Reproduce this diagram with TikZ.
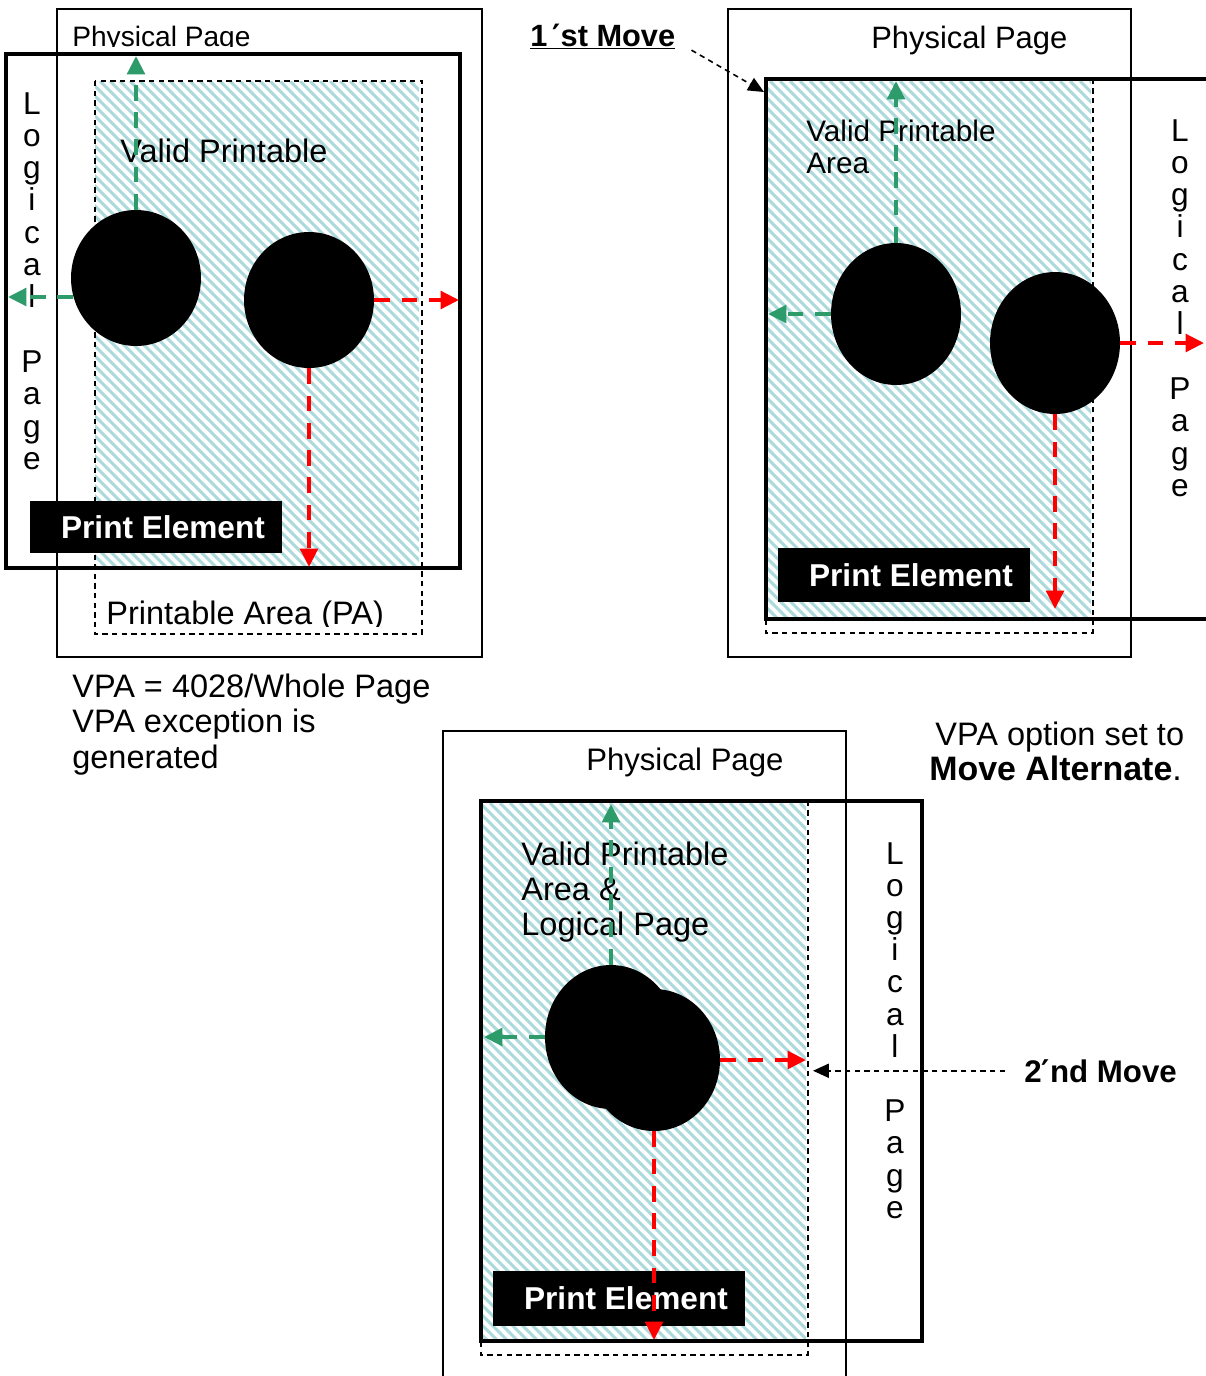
\documentclass[tikz,border=0pt]{standalone}
\usepackage{fontspec}
\setmainfont{Liberation Sans}
\newfontfamily\primefont{DejaVu Sans}
\usepackage{tikz}
\usetikzlibrary{arrows.meta, shapes.geometric}

\definecolor{hatchteal}{RGB}{172,218,220}
\definecolor{movegreen}{RGB}{46,155,106}
\definecolor{movered}{RGB}{255,0,0}

% striped valid printable area
\newcommand{\hatchbox}[4]{%
  \begin{scope}
    \clip (#1,#2) rectangle (#3,#4);
    \foreach \hx in {-600,-590,...,1210}
      \draw[hatch] (\hx,#2) -- ++(700,700);
  \end{scope}}

\begin{document}
\begin{tikzpicture}[
    x=0.02cm, y=-0.02cm,
    phys/.style={draw, line width=1.1pt},
    logical/.style={draw, line width=2.3pt},
    parea/.style={draw, line width=0.8pt, dash pattern=on 3pt off 2.5pt},
    hatch/.style={draw=hatchteal, line width=1.7pt},
    lbl/.style={inner sep=0pt, anchor=base west, font=\fontsize{18.5}{22}\selectfont},
    vletter/.style={inner sep=0pt, anchor=base, font=\fontsize{18}{22}\selectfont},
    elem/.style={fill=black, text=white, inner sep=0pt, minimum width=5.04cm,
                 font=\bfseries\fontsize{18}{22}\selectfont},
    blob/.style={ellipse, fill=black, inner sep=0pt},
    move/.style={dash pattern=on 9pt off 6.5pt, line width=2.3pt,
                 -{Triangle[length=10.5pt,width=10pt]}},
    gmove/.style={move, color=movegreen},
    rmove/.style={move, color=movered},
    pointer/.style={draw, line width=0.9pt, dash pattern=on 3pt off 2.5pt,
                    -{Triangle[length=9pt,width=8pt]}},
]
\useasboundingbox (0,0) rectangle (1205,1376);

% ---- first panel: VPA exception
\draw[phys] (57,9) rectangle (482,657);
\hatchbox{95}{81}{419}{566}
\draw[parea] (95,81) rectangle (422,634);
\draw[logical] (6,54) rectangle (460,568);
\begin{scope}
  \clip (0,0) rectangle (480,46.5);
  \node[lbl, font=\fontsize{16}{20}\selectfont] (phys1) at (72,46) {Physical Page};
\end{scope}
\begin{scope}
  \clip (0,0) rectangle (480,626);
  \node[lbl] (pa1) at (106,624) {Printable Area (PA)};
\end{scope}
\node[lbl] (vpa1) at (120,162) {Valid Printable};
\foreach \ch [count=\i] in {L,o,g,i,c,a,l,,P,a,g,e}
  \node[vletter] (lp1-\i) at (32,{114+32.3*(\i-1)}) {\ch};
\node[blob, minimum width=2.6cm, minimum height=2.72cm] (a1) at (136,278) {};
\node[blob, minimum width=2.6cm, minimum height=2.72cm] (b1) at (309,300) {};
\node[elem, minimum height=1.04cm] (pe1) at (156,527) {\hspace*{0.28cm}Print Element};
\coordinate (u1) at (136,56);
\coordinate (l1) at (8,297);
\coordinate (r1) at (459,300);
\coordinate (d1) at (309,567);
\draw[gmove] (a1.north) -- (u1);
\draw[gmove] (l1 -| a1.197) -- (l1);
\draw[rmove] (b1.east) -- (r1);
\draw[rmove] (b1.south) -- (d1);
\node[lbl] (note1) at (72,697) {VPA = 4028/Whole Page};
\node[lbl] (note2) at (72,732) {VPA exception is};
\node[lbl] (note3) at (72,768) {generated};

% ---- second panel: first move
\draw[phys] (728,9) rectangle (1131,657);
\hatchbox{768}{81}{1091}{617}
\draw[parea] (766,79) rectangle (1093,633);
\draw[logical] (1215,79) -- (766,79) -- (766,619) -- (1215,619);
\node[lbl, font=\fontsize{17.6}{21}\selectfont] (phys2) at (871,48) {Physical Page};
\node[lbl, font=\fontsize{16.9}{20}\selectfont] (vpa2a) at (806,141) {Valid Printable};
\node[lbl, font=\fontsize{16.9}{20}\selectfont] (vpa2b) at (806,173) {Area};
\node[lbl, font=\bfseries\fontsize{17.5}{21}\selectfont] (move1) at (530,46)
  {\underline{1\,{\primefont ′}st Move}};
\foreach \ch [count=\i] in {L,o,g,i,c,a,l,,P,a,g,e}
  \node[vletter] (lp2-\i) at (1180,{141+32.3*(\i-1)}) {\ch};
\node[blob, minimum width=2.6cm, minimum height=2.84cm] (a2) at (896,314) {};
\node[blob, minimum width=2.6cm, minimum height=2.84cm] (b2) at (1055,343) {};
\node[elem, minimum height=1.08cm] (pe2) at (904,575) {\hspace*{0.28cm}Print Element};
\coordinate (u2) at (896,81);
\coordinate (l2) at (768,314);
\coordinate (r2) at (1204,343);
\coordinate (d2) at (1055,609);
\coordinate (corner2) at (764,92);
\draw[gmove] (a2.north) -- (u2);
\draw[gmove] (a2.west) -- (l2);
\draw[rmove] (b2.east) -- (r2);
\draw[rmove] (b2.south) -- (d2);
\draw[pointer] ([xshift=0.32cm]move1.south east) -- (corner2);

% ---- third panel: move alternate
\draw[phys] (443,731) rectangle (846,1395);
\hatchbox{483}{803}{806}{1339}
\draw[parea] (481,801) rectangle (808,1355);
\draw[logical] (481,801) rectangle (922,1341);
\node[lbl, font=\fontsize{17.7}{21}\selectfont] (phys3) at (586,770) {Physical Page};
\node[lbl] (opt1) at (935,745) {VPA option set to};
\node[lbl, font=\fontsize{19.3}{22}\selectfont] (opt2) at (929,780) {\textbf{Move Alternate}.};
\node[lbl] (vpa3a) at (521,865) {Valid Printable};
\node[lbl] (vpa3b) at (521,900) {Area \&};
\node[lbl] (vpa3c) at (521,935) {Logical Page};
\foreach \ch [count=\i] in {L,o,g,i,c,a,l,,P,a,g,e}
  \node[vletter] (lp3-\i) at (895,{864+32.2*(\i-1)}) {\ch};
\node[blob, minimum width=2.64cm, minimum height=2.88cm] (a3) at (611,1037) {};
\node[blob, minimum width=2.64cm, minimum height=2.84cm] (b3) at (654,1060) {};
\node[elem, minimum height=1.1cm] (pe3) at (619,1298) {\hspace*{0.28cm}Print Element};
\node[lbl, font=\bfseries\fontsize{17.8}{21}\selectfont] (move2) at (1024,1082)
  {2{\primefont ′}nd Move};
\coordinate (u3) at (611,804);
\coordinate (l3) at (484,1037);
\coordinate (r3) at (806,1060);
\coordinate (d3) at (654,1340);
\coordinate (edge3) at (813,1068);
\draw[gmove] (a3.north) -- (u3);
\draw[gmove] (a3.west) -- (l3);
\draw[rmove] (b3.east) -- (r3);
\draw[rmove] (b3.south) -- (d3);
\draw[pointer] ([xshift=-0.38cm]move2.west) -- (move2.west -| edge3);
\end{tikzpicture}
\end{document}
